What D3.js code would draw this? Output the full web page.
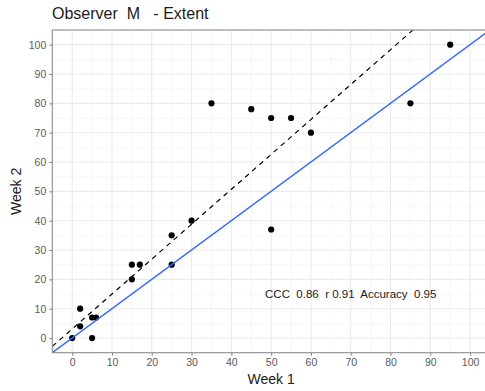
<!DOCTYPE html>
<html>
<head>
<meta charset="utf-8">
<script src="https://cdn.jsdelivr.net/npm/d3@7"></script>
<style>
  html, body { margin: 0; padding: 0; background: #fff; }
  svg { display: block; font-family: "Liberation Sans", Arial, sans-serif; }
</style>
</head>
<body>
<svg id="chart" width="485" height="391"></svg>
<script>
// Extent scores given by the observer in two sessions
const week1 = [0, 2, 2, 5, 6, 5, 15, 15, 17, 25, 25, 30, 35, 45, 50, 55, 60, 50, 85, 95];
const week2 = [0, 4, 10, 7, 7, 0, 20, 25, 25, 25, 35, 40, 80, 78, 75, 75, 70, 37, 80, 100];

// Fitted line (dashed) and line of identity (solid)
const fitIntercept = 3.1;
const fitSlope = 1.19;
const identityIntercept = 0;
const identitySlope = 1;

const tickValues = [0, 10, 20, 30, 40, 50, 60, 70, 80, 90, 100];
const minorValues = [-5, 5, 15, 25, 35, 45, 55, 65, 75, 85, 95, 105];
const domain = [-5, 105];

const stats = { ccc: "0.86", r: "0.91", accuracy: "0.95" };
const statsAt = [70, 15];

const svg = d3.select("#chart");
const panel = { left: 52.3, top: 30, right: 490, bottom: 352.7 };

const x = d3.scaleLinear().domain(domain).range([panel.left, panel.right]);
const y = d3.scaleLinear().domain(domain).range([panel.bottom, panel.top]);

svg.append("defs").append("clipPath").attr("id", "clip")
  .append("rect")
  .attr("x", panel.left).attr("y", panel.top)
  .attr("width", panel.right - panel.left).attr("height", panel.bottom - panel.top);

const plot = svg.append("g").attr("clip-path", "url(#clip)");

// minor grid
plot.selectAll(".vminor").data(minorValues).join("line")
  .attr("x1", d => x(d)).attr("x2", d => x(d))
  .attr("y1", panel.top).attr("y2", panel.bottom)
  .attr("stroke", "#f0f0f0").attr("stroke-width", 0.6);
plot.selectAll(".hminor").data(minorValues).join("line")
  .attr("y1", d => y(d)).attr("y2", d => y(d))
  .attr("x1", panel.left).attr("x2", panel.right)
  .attr("stroke", "#f0f0f0").attr("stroke-width", 0.6);

// major grid
plot.selectAll(".vmajor").data(tickValues).join("line")
  .attr("x1", d => x(d)).attr("x2", d => x(d))
  .attr("y1", panel.top).attr("y2", panel.bottom)
  .attr("stroke", "#ebebeb").attr("stroke-width", 1.1);
plot.selectAll(".hmajor").data(tickValues).join("line")
  .attr("y1", d => y(d)).attr("y2", d => y(d))
  .attr("x1", panel.left).attr("x2", panel.right)
  .attr("stroke", "#ebebeb").attr("stroke-width", 1.1);

// points
const pts = week1.map((v, i) => ({ a: v, b: week2[i] }));
plot.selectAll("circle").data(pts).join("circle")
  .attr("cx", d => x(d.a)).attr("cy", d => y(d.b))
  .attr("r", 3.1).attr("fill", "#000");

// fitted dashed line
plot.append("line")
  .attr("x1", x(domain[0])).attr("y1", y(fitIntercept + fitSlope * domain[0]))
  .attr("x2", x(domain[1])).attr("y2", y(fitIntercept + fitSlope * domain[1]))
  .attr("stroke", "#000").attr("stroke-width", 1.2)
  .attr("stroke-dasharray", "5,4.5");

// identity line
plot.append("line")
  .attr("x1", x(domain[0])).attr("y1", y(identityIntercept + identitySlope * domain[0]))
  .attr("x2", x(domain[1])).attr("y2", y(identityIntercept + identitySlope * domain[1]))
  .attr("stroke", "#3366ff").attr("stroke-width", 1.4);

// statistics label
svg.append("text")
  .attr("x", x(statsAt[0])).attr("y", y(statsAt[1]))
  .attr("dy", "0.35em")
  .attr("text-anchor", "middle")
  .attr("font-size", 11.5).attr("fill", "#1a1a1a")
  .attr("xml:space", "preserve")
  .text(`CCC  ${stats.ccc}  r ${stats.r}  Accuracy  ${stats.accuracy}`);

// panel border
svg.append("rect")
  .attr("x", panel.left).attr("y", panel.top)
  .attr("width", panel.right - panel.left).attr("height", panel.bottom - panel.top)
  .attr("fill", "none").attr("stroke", "#8c8c8c").attr("stroke-width", 1.1);

// axes
const xAxis = svg.append("g").attr("transform", `translate(0,${panel.bottom})`)
  .call(d3.axisBottom(x).tickValues(tickValues).tickSize(3).tickPadding(3));
const yAxis = svg.append("g").attr("transform", `translate(${panel.left},0)`)
  .call(d3.axisLeft(y).tickValues(tickValues).tickSize(3).tickPadding(3));
[xAxis, yAxis].forEach(g => {
  g.select(".domain").remove();
  g.selectAll(".tick line").attr("stroke", "#8c8c8c").attr("stroke-width", 1.1);
  g.selectAll(".tick text").attr("fill", "#5a5a5a").attr("font-size", 10.5)
    .attr("font-family", "Liberation Sans, Arial, sans-serif");
});

// axis titles
svg.append("text")
  .attr("x", (panel.left + panel.right) / 2).attr("y", 384)
  .attr("text-anchor", "middle").attr("font-size", 14).attr("fill", "#1a1a1a")
  .text("Week 1");
svg.append("text")
  .attr("transform", `translate(21,${(panel.top + panel.bottom) / 2}) rotate(-90)`)
  .attr("text-anchor", "middle").attr("font-size", 14).attr("fill", "#1a1a1a")
  .text("Week 2");

// title
svg.append("text")
  .attr("x", 52).attr("y", 19)
  .attr("font-size", 16).attr("fill", "#1a1a1a")
  .attr("xml:space", "preserve")
  .text("Observer  M   - Extent");
</script>
</body>
</html>
